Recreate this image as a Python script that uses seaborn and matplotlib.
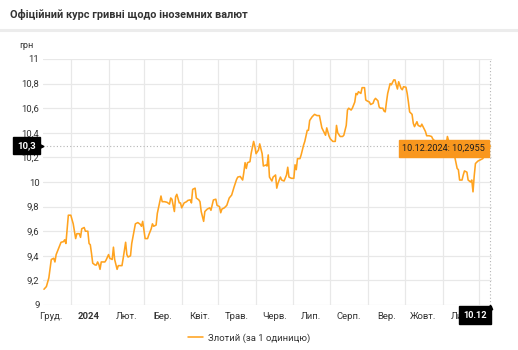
import matplotlib
matplotlib.use("Agg")
import matplotlib.pyplot as plt
import matplotlib.dates as mdates
import matplotlib.transforms as mtransforms
from matplotlib.lines import Line2D
from matplotlib.ticker import FuncFormatter
import pandas as pd
import seaborn as sns

# Official NBU rate of the Polish zloty, UAH per 1 PLN
dates = [
    "2023-12-10", "2023-12-12", "2023-12-14", "2023-12-16", "2023-12-18", "2023-12-19",
    "2023-12-20", "2023-12-22", "2023-12-24", "2023-12-26", "2023-12-27", "2023-12-28",
    "2023-12-30", "2024-01-01", "2024-01-03", "2024-01-04", "2024-01-05", "2024-01-06",
    "2024-01-08", "2024-01-09", "2024-01-10", "2024-01-12", "2024-01-13", "2024-01-15",
    "2024-01-16", "2024-01-17", "2024-01-18", "2024-01-19", "2024-01-21", "2024-01-22",
    "2024-01-23", "2024-01-24", "2024-01-25", "2024-01-26", "2024-01-29", "2024-01-30",
    "2024-02-01", "2024-02-02", "2024-02-04", "2024-02-05", "2024-02-06", "2024-02-08",
    "2024-02-09", "2024-02-12", "2024-02-13", "2024-02-15", "2024-02-16", "2024-02-17",
    "2024-02-19", "2024-02-20", "2024-02-23", "2024-02-25", "2024-02-27", "2024-02-28",
    "2024-02-29", "2024-03-02", "2024-03-04", "2024-03-05", "2024-03-07", "2024-03-08",
    "2024-03-09", "2024-03-11", "2024-03-12", "2024-03-14", "2024-03-15", "2024-03-16",
    "2024-03-18", "2024-03-20", "2024-03-22", "2024-03-23", "2024-03-24", "2024-03-26",
    "2024-03-27", "2024-03-28", "2024-03-30", "2024-03-31", "2024-04-01", "2024-04-03",
    "2024-04-05", "2024-04-06", "2024-04-08", "2024-04-09", "2024-04-10", "2024-04-12",
    "2024-04-13", "2024-04-15", "2024-04-16", "2024-04-17", "2024-04-19", "2024-04-20",
    "2024-04-22", "2024-04-24", "2024-04-25", "2024-04-27", "2024-04-29", "2024-04-30",
    "2024-05-02", "2024-05-03", "2024-05-04", "2024-05-06", "2024-05-08", "2024-05-10",
    "2024-05-12", "2024-05-14", "2024-05-16", "2024-05-17", "2024-05-19", "2024-05-21",
    "2024-05-22", "2024-05-23", "2024-05-24", "2024-05-25", "2024-05-27", "2024-05-28",
    "2024-05-30", "2024-05-31", "2024-06-01", "2024-06-03", "2024-06-04", "2024-06-06",
    "2024-06-07", "2024-06-09", "2024-06-10", "2024-06-11", "2024-06-12", "2024-06-14",
    "2024-06-15", "2024-06-17", "2024-06-18", "2024-06-19", "2024-06-21", "2024-06-22",
    "2024-06-24", "2024-06-26", "2024-06-27", "2024-06-28", "2024-06-30", "2024-07-02",
    "2024-07-03", "2024-07-04", "2024-07-05", "2024-07-07", "2024-07-08", "2024-07-10",
    "2024-07-11", "2024-07-13", "2024-07-14", "2024-07-15", "2024-07-17", "2024-07-19",
    "2024-07-21", "2024-07-23", "2024-07-24", "2024-07-25", "2024-07-27", "2024-07-28",
    "2024-07-29", "2024-07-31", "2024-08-01", "2024-08-03", "2024-08-05", "2024-08-06",
    "2024-08-07", "2024-08-09", "2024-08-11", "2024-08-12", "2024-08-14", "2024-08-15",
    "2024-08-16", "2024-08-18", "2024-08-19", "2024-08-21", "2024-08-22", "2024-08-23",
    "2024-08-24", "2024-08-26", "2024-08-27", "2024-08-29", "2024-08-30", "2024-08-31",
    "2024-09-02", "2024-09-03", "2024-09-05", "2024-09-06", "2024-09-07", "2024-09-09",
    "2024-09-10", "2024-09-11", "2024-09-13", "2024-09-14", "2024-09-15", "2024-09-16",
    "2024-09-17", "2024-09-19", "2024-09-20", "2024-09-22", "2024-09-23", "2024-09-24",
    "2024-09-25", "2024-09-26", "2024-09-28", "2024-09-29", "2024-09-30", "2024-10-02",
    "2024-10-03", "2024-10-04", "2024-10-05", "2024-10-07", "2024-10-08", "2024-10-09",
    "2024-10-11", "2024-10-12", "2024-10-14", "2024-10-15", "2024-10-16", "2024-10-18",
    "2024-10-19", "2024-10-21", "2024-10-23", "2024-10-24", "2024-10-26", "2024-10-28",
    "2024-10-31", "2024-11-02", "2024-11-04", "2024-11-05", "2024-11-07", "2024-11-09",
    "2024-11-11", "2024-11-13", "2024-11-14", "2024-11-15", "2024-11-17", "2024-11-18",
    "2024-11-19", "2024-11-21", "2024-11-22", "2024-11-24", "2024-11-25", "2024-11-26",
    "2024-11-27", "2024-11-28", "2024-11-30", "2024-12-02", "2024-12-04", "2024-12-06",
    "2024-12-07", "2024-12-09", "2024-12-10",
]
rates = [
    9.128, 9.15, 9.22, 9.37, 9.38, 9.35,
    9.41, 9.46, 9.51, 9.515, 9.53, 9.50,
    9.73, 9.73, 9.66, 9.60, 9.54, 9.58,
    9.58, 9.55, 9.62, 9.63, 9.60, 9.60,
    9.50, 9.49, 9.42, 9.34, 9.325, 9.325,
    9.35, 9.33, 9.29, 9.35, 9.35, 9.366,
    9.41, 9.38, 9.37, 9.47, 9.37, 9.29,
    9.32, 9.32, 9.38, 9.51, 9.41, 9.39,
    9.40, 9.50, 9.66, 9.67, 9.656, 9.64,
    9.68, 9.54, 9.54, 9.57, 9.62, 9.66,
    9.64, 9.65, 9.745, 9.84, 9.886, 9.84,
    9.84, 9.835, 9.82, 9.87, 9.86, 9.76,
    9.88, 9.90, 9.83, 9.83, 9.79, 9.83,
    9.84, 9.85, 9.855, 9.83, 9.94, 9.95,
    9.87, 9.855, 9.84, 9.76, 9.68, 9.76,
    9.78, 9.79, 9.77, 9.854, 9.86, 9.81,
    9.80, 9.75, 9.78, 9.79, 9.81, 9.87,
    9.894, 9.96, 10.02, 10.04, 10.045, 10.016,
    10.08, 10.157, 10.11, 10.157, 10.165, 10.233,
    10.33, 10.29, 10.23, 10.26, 10.31, 10.23,
    10.13, 10.138, 10.13, 10.22, 10.04, 10.008,
    10.04, 10.057, 9.95, 9.99, 10.04, 10.016,
    10.008, 10.057, 10.12, 10.04, 10.03, 10.03,
    10.14, 10.10, 10.19, 10.19, 10.22, 10.30,
    10.33, 10.42, 10.42, 10.50, 10.53, 10.55,
    10.54, 10.54, 10.49, 10.44, 10.40, 10.38,
    10.44, 10.37, 10.35, 10.33, 10.33, 10.46,
    10.40, 10.37, 10.37, 10.38, 10.46, 10.585,
    10.60, 10.585, 10.60, 10.65, 10.72, 10.71,
    10.734, 10.72, 10.767, 10.767, 10.667, 10.66,
    10.65, 10.63, 10.64, 10.667, 10.68, 10.66,
    10.61, 10.60, 10.60, 10.577, 10.57, 10.65,
    10.72, 10.80, 10.79, 10.83, 10.83, 10.79,
    10.756, 10.815, 10.76, 10.75, 10.775, 10.77,
    10.72, 10.65, 10.57, 10.55, 10.477, 10.45,
    10.49, 10.46, 10.45, 10.47, 10.45, 10.41,
    10.376, 10.376, 10.37, 10.35, 10.33, 10.30,
    10.28, 10.29, 10.31, 10.37, 10.30, 10.25,
    10.206, 10.11, 10.10, 10.016, 10.016, 10.057,
    10.09, 10.08, 10.016, 10.0, 10.016, 9.92,
    10.05, 10.15, 10.17, 10.18, 10.19, 10.22,
    10.23, 10.26, 10.2955,
]

month_labels = ["Груд.", "2024", "Лют.", "Бер.", "Квіт.", "Трав.",
                "Черв.", "Лип.", "Серп.", "Вер.", "Жовт.", "Лис."]
y_ticks = [9, 9.2, 9.4, 9.6, 9.8, 10, 10.2, 10.4, 10.6, 10.8, 11]
series_name = "Злотий (за 1 одиницю)"
title_text = "Офіційний курс гривні щодо іноземних валют"
unit_text = "грн"

LINE = "#FFA31F"
BADGE = "#F9971E"
GRID = "#e8e8e8"
TEXT = "#333333"


def comma(v, fmt):
    return format(v, fmt).replace(".", ",")


sns.set_theme(style="white")
plt.rcParams["font.family"] = ["Roboto", "DejaVu Sans"]

df = pd.DataFrame({"date": pd.to_datetime(dates), "rate": rates})
last_date = df["date"].iloc[-1]
last_rate = df["rate"].iloc[-1]
last_x = mdates.date2num(last_date)

W, H = 518, 350
fig = plt.figure(figsize=(W / 100, H / 100), dpi=100)
ax = fig.add_axes([43 / W, 1 - 305 / H, (492 - 43) / W, (305 - 59) / H])

sns.lineplot(data=df, x="date", y="rate", ax=ax, color=LINE, lw=1.15,
             label=series_name, zorder=3)

# axes ranges
ax.set_xlim(pd.Timestamp("2023-12-09 05:00"), pd.Timestamp("2024-12-11 14:00"))
ax.set_ylim(9, 11)
ax.set_xlabel("")
ax.set_ylabel("")
for s in ax.spines.values():
    s.set_visible(False)

# month boundaries as grid, month names centred in each month
month_starts = pd.date_range("2024-01-01", "2024-12-01", freq="MS")
mid_months = [pd.Timestamp(2023, 12, 16)] + [pd.Timestamp(2024, m, 16) for m in range(1, 12)]
ax.set_xticks(month_starts)
ax.set_xticklabels([])
ax.set_xticks(mid_months, minor=True)
ax.set_xticklabels(month_labels, minor=True)
ax.set_yticks(y_ticks)
ax.yaxis.set_major_formatter(FuncFormatter(lambda v, _: comma(v, "g")))
ax.tick_params(which="both", length=0, labelsize=6.8, colors=TEXT)
ax.tick_params(axis="x", which="minor", pad=4.8)
ax.tick_params(axis="y", pad=2.6)
for lbl in ax.get_xticklabels(minor=True):
    if lbl.get_text() == "2024":
        lbl.set_fontweight("bold")
ax.grid(True, which="major", axis="both", color=GRID, lw=0.9)
ax.set_axisbelow(True)

# crosshair at the latest quote
ax.axhline(last_rate, color="#b5b5b5", lw=0.8, ls=(0, (1, 2)), zorder=2)
ax.axvline(last_date, color="#b5b5b5", lw=0.8, ls=(0, (1, 2)), zorder=2)

# value badge on the y axis
ytrans = mtransforms.blended_transform_factory(ax.transAxes, ax.transData)
ax.text(-0.037, last_rate, comma(last_rate, ".1f"), transform=ytrans,
        ha="center", va="center", fontsize=6.8, fontweight="bold", color="white",
        bbox=dict(boxstyle="square,pad=0.42", fc="black", ec="black"), zorder=6,
        clip_on=False)
ax.plot([-0.004], [last_rate], marker=">", ms=3.5, color="black", transform=ytrans,
        clip_on=False, zorder=6)

# tooltip for the latest quote
ax.annotate(f"{last_date:%d.%m.%Y}: {comma(last_rate, '.4f')}",
            xy=(last_x, last_rate), xytext=(-5, -3), textcoords="offset pixels",
            ha="right", va="center", fontsize=6.6, color="#1e1e1e",
            bbox=dict(boxstyle="square,pad=0.4", fc=BADGE, ec=BADGE), zorder=7)

# date badge on the x axis
xtrans = mtransforms.blended_transform_factory(ax.transData, ax.transAxes)
ax.annotate(f"{last_date:%d.%m}", xy=(last_x, 0), xycoords=xtrans,
            xytext=(-3, -10), textcoords="offset pixels", ha="right", va="center",
            fontsize=6.6, fontweight="bold", color="white",
            bbox=dict(boxstyle="square,pad=0.45", fc="black", ec="black"),
            zorder=7, annotation_clip=False)
ax.plot([last_x], [-0.008], marker="^", ms=3.2, color="black", transform=xtrans,
        clip_on=False, zorder=7)

# legend below the axis
ax.legend(loc="center", bbox_to_anchor=(249 / W, 1 - 338 / H), bbox_transform=fig.transFigure,
          frameon=False, fontsize=6.8, handlelength=1.6, handletextpad=0.5,
          labelcolor=TEXT)

# header
fig.text(10 / W, 1 - 14 / H, title_text, ha="left", va="center", fontsize=7.8,
         fontweight="bold", color=TEXT)
fig.add_artist(Line2D([0, 1], [1 - 30 / H] * 2, transform=fig.transFigure,
                      color="#ececec", lw=2.2))
fig.text(26.5 / W, 1 - 46 / H, unit_text, ha="center", va="center", fontsize=6.6,
         color=TEXT)

fig.savefig("out.png", dpi=100)
